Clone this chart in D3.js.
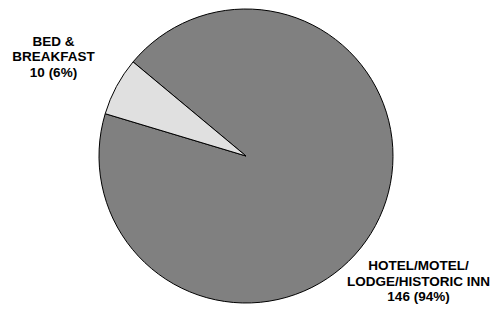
<!DOCTYPE html>
<meta charset="utf-8">
<script src="https://d3js.org/d3.v7.min.js"></script>
<style>
  body { margin: 0; background: #fff; }
</style>
<body>
<script>

var categories = ["HOTEL/MOTEL/LODGE/HISTORIC INN", "BED & BREAKFAST"];
var counts     = [146, 10];
var percents   = [94, 6];
var labelLines = [["HOTEL/MOTEL/", "LODGE/HISTORIC INN", "146 (94%)"],
                  ["BED &", "BREAKFAST", "10 (6%)"]];
var sliceColors = ["#808080", "#e0e0e0"];

var width = 495, height = 309;
var cx = 246, cy = 156, radius = 147;

var svg = d3.select("body").append("svg")
    .attr("width", width)
    .attr("height", height);

var data = categories.map(function(c, i) {
    return { key: c, value: counts[i], pct: percents[i], lines: labelLines[i], color: sliceColors[i] };
});

var startDeg = -50.2;
var pie = d3.pie()
    .sort(null)
    .value(function(d) { return d.value; })
    .startAngle(startDeg * Math.PI / 180)
    .endAngle((startDeg + 360) * Math.PI / 180);

var arc = d3.arc().innerRadius(0).outerRadius(radius);

var g = svg.append("g")
    .attr("transform", "translate(" + cx + "," + cy + ")");

g.selectAll("path")
    .data(pie(data))
    .enter().append("path")
      .attr("d", arc)
      .style("fill", function(d) { return d.data.color; })
      .style("stroke", "#000")
      .style("stroke-width", 1);

// label spots
var labelPos = [[418.5, 270], [53.5, 45.5]];

var labels = svg.selectAll(".lbl")
    .data(data)
    .enter().append("text")
      .attr("class", "lbl")
      .attr("text-anchor", "middle")
      .style("font-family", "Liberation Sans, Arial, sans-serif")
      .style("font-weight", "bold")
      .style("font-size", "13.5px")
      .attr("transform", function(d, i) { return "translate(" + labelPos[i][0] + "," + labelPos[i][1] + ")"; });

labels.selectAll("tspan")
    .data(function(d) { return d.lines; })
    .enter().append("tspan")
      .attr("x", 0)
      .attr("y", function(d, i) { return i * 15.7; })
      .text(function(d) { return d; });

</script>
</body>
